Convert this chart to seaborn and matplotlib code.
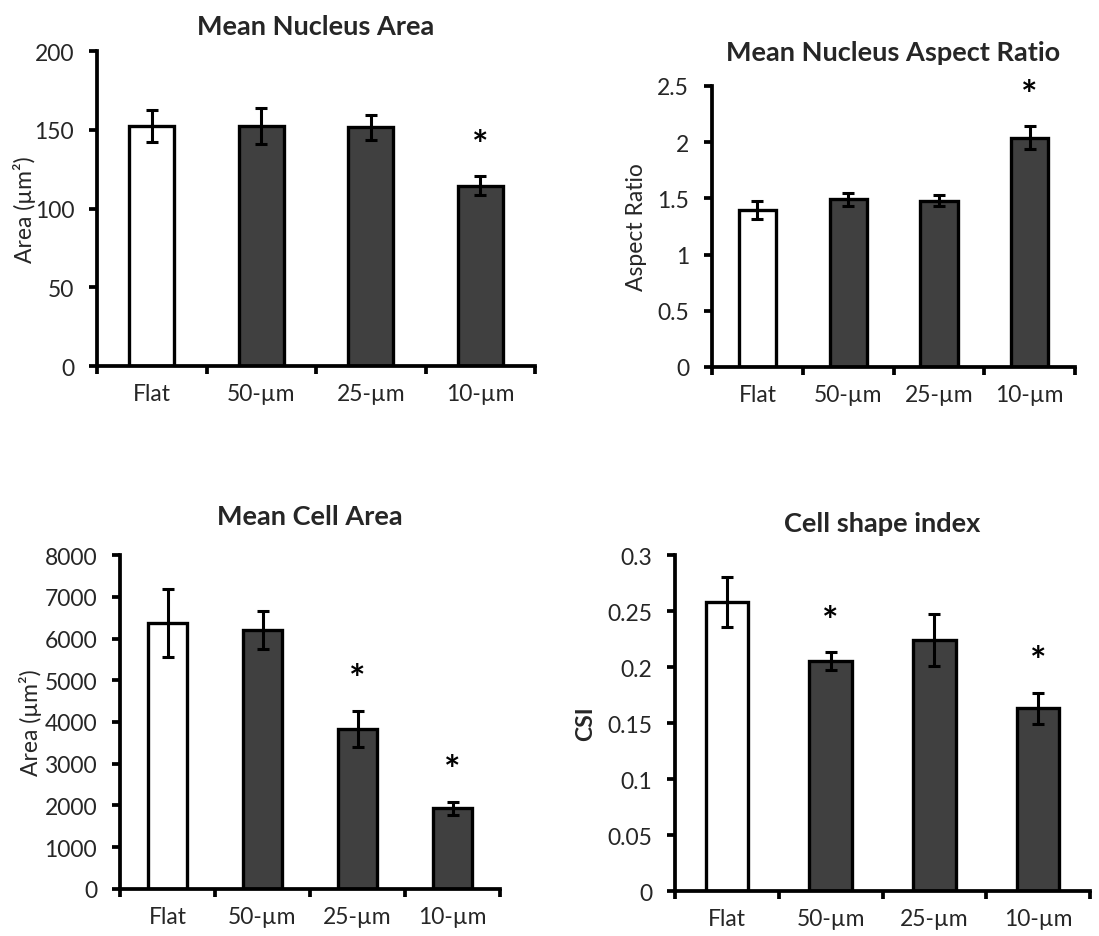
import matplotlib
matplotlib.use("Agg")
import matplotlib.pyplot as plt
import seaborn as sns
from matplotlib.ticker import FixedLocator

categories = ["Flat", "50-µm", "25-µm", "10-µm"]

nucleus_area = [152.5, 152.5, 151.5, 114.5]
nucleus_area_err = [10.0, 11.5, 8.0, 6.0]
nucleus_area_sig = [False, False, False, True]

aspect_ratio = [1.40, 1.49, 1.48, 2.04]
aspect_ratio_err = [0.08, 0.055, 0.05, 0.10]
aspect_ratio_sig = [False, False, False, True]

cell_area = [6370, 6200, 3840, 1930]
cell_area_err = [820, 460, 430, 160]
cell_area_sig = [False, False, True, True]

csi = [0.258, 0.205, 0.224, 0.163]
csi_err = [0.022, 0.008, 0.023, 0.014]
csi_sig = [False, True, False, True]

sns.set_theme(style="ticks")
plt.rcParams["font.family"] = ["Lato", "DejaVu Sans"]

fig = plt.figure(figsize=(10.99, 9.37), dpi=100)

panels = [
    # rect, values, errors, sig, ymax, yticks, title, ylabel, bold label, title pad, label x
    ([0.0883, 0.6083, 0.3985, 0.3362], nucleus_area, nucleus_area_err, nucleus_area_sig,
     200, [0, 50, 100, 150, 200], "Mean Nucleus Area", "Area (µm²)", False, 12, -0.139),
    ([0.6479, 0.6073, 0.3303, 0.2999], aspect_ratio, aspect_ratio_err, aspect_ratio_sig,
     2.5, [0, 0.5, 1, 1.5, 2, 2.5], "Mean Nucleus Aspect Ratio", "Aspect Ratio", False, 19, -0.179),
    ([0.1092, 0.0502, 0.3458, 0.3564], cell_area, cell_area_err, cell_area_sig,
     8000, [0, 1000, 2000, 3000, 4000, 5000, 6000, 7000, 8000], "Mean Cell Area", "Area (µm²)", False, 22, -0.205),
    ([0.6142, 0.0480, 0.3777, 0.3586], csi, csi_err, csi_sig,
     0.3, [0, 0.05, 0.1, 0.15, 0.2, 0.25, 0.3], "Cell shape index", "CSI", True, 17, -0.19),
]

palette = ["white", "#404040", "#404040", "#404040"]

for rect, vals, errs, sig, ymax, yticks, title, ylabel, bold, tpad, lx in panels:
    ax = fig.add_axes(rect)
    sns.barplot(x=categories, y=vals, hue=categories, palette=palette, legend=False,
                width=0.41, edgecolor="black", linewidth=2.4, ax=ax, zorder=2)
    ax.errorbar(x=list(range(len(categories))), y=vals, yerr=errs, fmt="none",
                ecolor="black", elinewidth=2.2, capsize=4.5, capthick=2.2, zorder=3)
    for i, s in enumerate(sig):
        if s:
            ax.annotate("*", xy=(i, vals[i] + errs[i]), xytext=(0, 14),
                        textcoords="offset points", ha="center", va="baseline",
                        fontsize=28, fontweight="bold", color="black")
    ax.set_xlim(-0.5, 3.5)
    ax.set_ylim(0, ymax)
    ax.set_yticks(yticks)
    ax.set_yticklabels([f"{t:g}" for t in yticks])
    ax.xaxis.set_minor_locator(FixedLocator([-0.5, 0.5, 1.5, 2.5, 3.5]))
    ax.tick_params(axis="x", which="major", length=0, pad=12, labelsize=16.5)
    ax.tick_params(axis="x", which="minor", length=5.5, width=2.7, direction="out", color="black")
    ax.tick_params(axis="y", length=5.5, width=2.7, direction="out", color="black",
                   pad=11, labelsize=16.5)
    for side in ["top", "right"]:
        ax.spines[side].set_visible(False)
    for side in ["left", "bottom"]:
        ax.spines[side].set_linewidth(2.7)
        ax.spines[side].set_color("black")
    ax.set_xlabel("")
    ax.set_ylabel(ylabel, fontsize=16.5, fontweight="bold" if bold else "normal")
    ax.yaxis.set_label_coords(lx, 0.5)
    ax.set_title(title, fontsize=19.5, fontweight="bold", pad=tpad)
    ax.set_facecolor("white")

fig.savefig("out.png", dpi=100, facecolor="white")
